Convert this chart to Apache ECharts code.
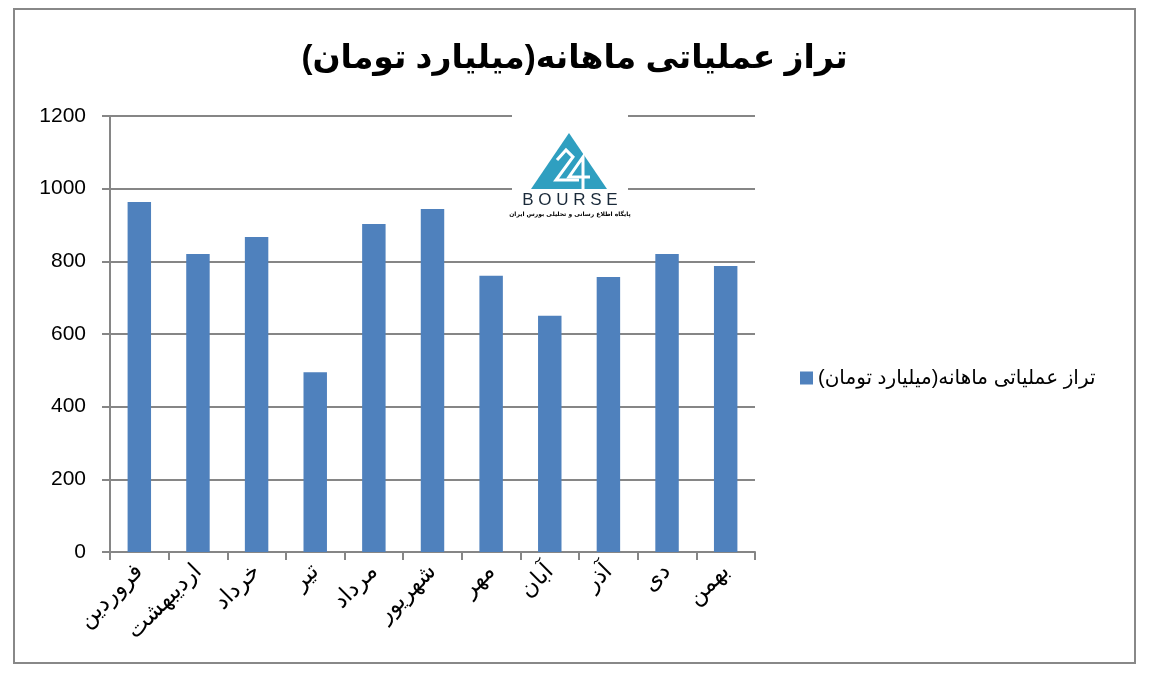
<!DOCTYPE html>
<html>
<head>
<meta charset="utf-8">
<script src="https://cdn.jsdelivr.net/npm/echarts@6/dist/echarts.min.js"></script>
<style>html,body{margin:0;padding:0;background:#fff}#c{width:1149px;height:679px}</style>
</head>
<body>
<div id="c"></div>
<script>
const titleText = 'تراز عملیاتی ماهانه(میلیارد تومان)';
const seriesName = 'تراز عملیاتی ماهانه(میلیارد تومان)';
const months = ['فروردین','اردیبهشت','خرداد','تیر','مرداد','شهریور','مهر','آبان','آذر','دی','بهمن'];
const values = [963, 820, 867, 495, 903, 944, 760, 650, 757, 820, 787];
const yTicks = [0, 200, 400, 600, 800, 1000, 1200];

const FONT = '"Liberation Sans", Arial, "DejaVu Sans", sans-serif';
const chart = echarts.init(document.getElementById('c'), null, {renderer: 'canvas'});
chart.setOption({
  backgroundColor: '#fff',
  animation: false,
  textStyle: {fontFamily: FONT},
  title: {
    text: titleText, left: 'center', top: 37,
    textStyle: {fontSize: 33, fontWeight: 'bold', color: '#000', fontFamily: FONT}
  },
  legend: {
    data: [seriesName], left: 795, top: 363, orient: 'vertical',
    icon: 'rect', itemWidth: 13, itemHeight: 13, itemGap: 8,
    textStyle: {fontSize: 20, color: '#000', fontFamily: FONT}
  },
  grid: {left: 110, right: 394, top: 116, bottom: 127, containLabel: false},
  xAxis: {
    type: 'category', data: months,
    axisLine: {lineStyle: {color: '#868686', width: 2}},
    axisTick: {show: true, length: 8, alignWithLabel: false, lineStyle: {color: '#868686', width: 2}},
    axisLabel: {rotate: 45, fontSize: 23, color: '#000', margin: 16, interval: 0, fontFamily: FONT}
  },
  yAxis: {
    type: 'value', min: yTicks[0], max: yTicks[yTicks.length - 1], interval: 200,
    axisLine: {show: true, lineStyle: {color: '#868686', width: 2}},
    axisTick: {show: true, length: 8, lineStyle: {color: '#868686', width: 2}},
    axisLabel: {fontSize: 21, color: '#000', margin: 24, fontFamily: FONT, formatter: v => String(v)},
    splitLine: {lineStyle: {color: '#868686', width: 2}}
  },
  series: [{
    name: seriesName, type: 'bar', data: values, barWidth: '40%',
    itemStyle: {color: '#4f81bd'}
  }],
  graphic: [
    {type: 'rect', shape: {x: 14, y: 9, width: 1121, height: 654},
     style: {fill: 'none', stroke: '#888', lineWidth: 2}, silent: true, z: 100},
    {type: 'rect', z: 50, shape: {x: 512, y: 110, width: 116, height: 116}, style: {fill: '#fff'}},
    {type: 'polygon', z: 51, shape: {points: [[569, 133], [607, 189], [531, 189]]}, style: {fill: '#2f9fc0'}},
    {type: 'polyline', z: 52, shape: {points: [[557, 160], [566, 150], [573, 157], [556, 180], [579, 180]]}, style: {stroke: '#fff', lineWidth: 3, fill: 'none'}},
    {type: 'polyline', z: 52, shape: {points: [[583, 189], [583, 157], [569, 177], [590, 177]]}, style: {stroke: '#fff', lineWidth: 3, fill: 'none'}},
    {type: 'text', z: 52, style: {x: 570, y: 192, text: 'B O U R S E', align: 'center', fill: '#1a2a3a', font: '17px "Liberation Sans", sans-serif'}},
    {type: 'text', z: 52, style: {x: 570, y: 211, text: 'پایگاه اطلاع رسانی و تحلیلی بورس ایران', align: 'center', fill: '#000', font: 'bold 6px "DejaVu Sans", sans-serif'}}
  ]
});
</script>
</body>
</html>
